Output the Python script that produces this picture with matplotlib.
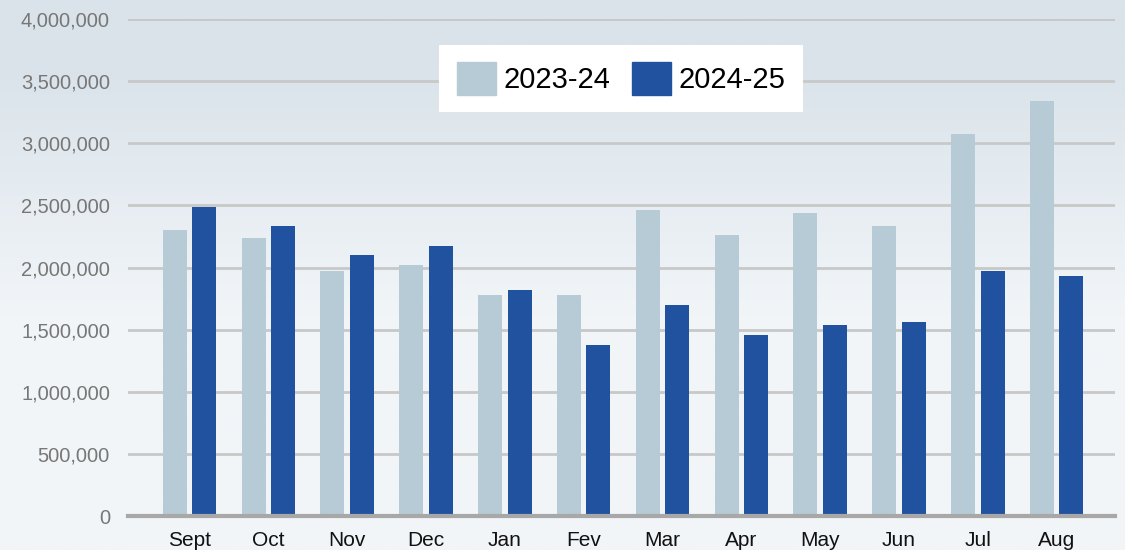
import numpy as np
import matplotlib
matplotlib.use("Agg")
import matplotlib.pyplot as plt
from matplotlib.patches import Patch

months = ["Sept", "Oct", "Nov", "Dec", "Jan", "Fev", "Mar", "Apr", "May", "Jun", "Jul", "Aug"]
s2023_24 = [2300000, 2240000, 1970000, 2020000, 1780000, 1780000, 2460000, 2265000, 2440000, 2330000, 3075000, 3340000]
s2024_25 = [2490000, 2330000, 2100000, 2170000, 1815000, 1375000, 1695000, 1460000, 1535000, 1565000, 1970000, 1930000]
yticks = [0, 500000, 1000000, 1500000, 2000000, 2500000, 3000000, 3500000, 4000000]

plt.rcParams['font.family'] = ['Liberation Sans', 'DejaVu Sans']

fig = plt.figure(figsize=(11.25, 5.5), dpi=100)
# background gradient
bg = fig.add_axes([0, 0, 1, 1])
bg.set_axis_off()
g = np.linspace(0, 1, 256)
t = np.clip((g - 0.12) / 0.45, 0, 1)
top = np.array([0xda, 0xe3, 0xea]) / 255
bot = np.array([0xf1, 0xf5, 0xf8]) / 255
cols = top[None, :] * (1 - t[:, None]) + bot[None, :] * t[:, None]
img = np.repeat(cols[:, None, :], 4, axis=1)
bg.imshow(img, aspect='auto', extent=[0, 1, 0, 1], origin='upper')
bg.set_xlim(0, 1); bg.set_ylim(0, 1)

ax = fig.add_axes([128/1125, 1 - 516/550, (1115-128)/1125, (516-19)/550])
ax.patch.set_alpha(0)
x = np.arange(len(months))
w = 0.305
off = 0.187
ax.bar(x - off, s2023_24, w, color='#b7cbd6', zorder=3, label='2023-24')
ax.bar(x + off, s2024_25, w, color='#2152a0', zorder=3, label='2024-25')
ax.set_xlim(-0.78, 11.74)
ax.set_ylim(0, 4000000)
ax.set_yticks(yticks)
ax.set_yticklabels([f"{v:,}" for v in yticks], color='#777777', fontsize=14.5)
ax.set_xticks(x)
ax.set_xticklabels(months, fontsize=15, color='#111111')
ax.tick_params(axis='y', length=0, pad=13)
ax.tick_params(axis='x', length=0, pad=11)
ax.grid(axis='y', color='#c8c8c8', linewidth=2, zorder=0)
for s in ['top', 'right', 'left']:
    ax.spines[s].set_visible(False)
ax.spines['bottom'].set_color('#a8a8a8')
ax.spines['bottom'].set_linewidth(3)
ax.spines['bottom'].set_zorder(4)

handles = [Patch(color='#b7cbd6', label='2023-24'), Patch(color='#2152a0', label='2024-25')]
leg = ax.legend(handles=handles, loc='center', bbox_to_anchor=((621-128)/987, (516-78.5)/497),
                ncol=2, fontsize=21, frameon=True, fancybox=False, framealpha=1,
                edgecolor='white', handlelength=1.34, handleheight=1.34, handletextpad=0.25,
                columnspacing=0.75, borderpad=0.6, borderaxespad=0)
leg.get_frame().set_linewidth(0)

fig.savefig("out.png", dpi=100)
